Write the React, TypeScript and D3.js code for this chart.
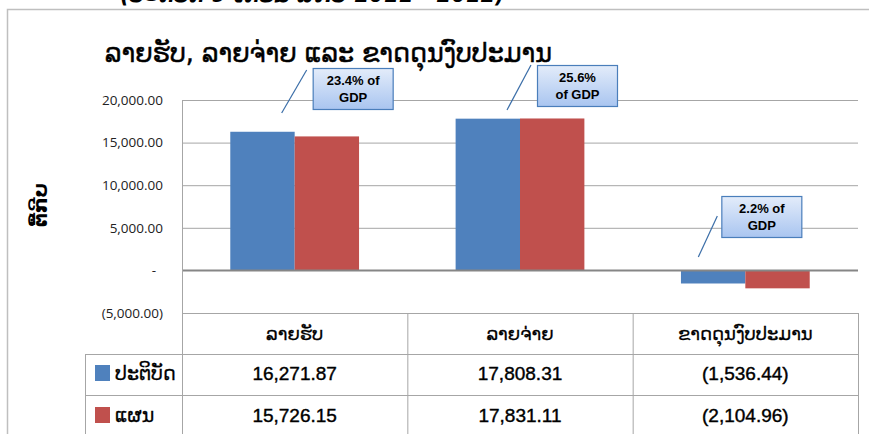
import React from "react";
import * as d3 from "d3";

// chart data
const categories = ["ລາຍຮັບ", "ລາຍຈ່າຍ", "ຂາດດຸນງົບປະມານ"];
const seriesNames = ["ປະຕິບັດ", "ແຜນ"];
const actual = [16271.87, 17808.31, -1536.44];
const plan = [15726.15, 17831.11, -2104.96];
const gdpNotes = [["23.4% of", "GDP"], ["25.6%", "of GDP"], ["2.2% of", "GDP"]];
const yTicks = [-5000, 0, 5000, 10000, 15000, 20000];

const colors = ["#4f81bd", "#c0504d"];
const gridColor = "#a6a6a6";

// callout placement (offsets from category centre)
const callouts = [
  { dx: 18, top: 68, line: [[-31, 45], [-6, 2]] },
  { dx: 17, top: 65, line: [[-30, 45], [-6, 0]] },
  { dx: -24, top: 196, line: [[-23, 61], [-4, 20]] },
];

const W = 869;
const H = 434;
const left = 182;
const right = 858;
const top = 100;
const bottom = 313;
const row1 = 354;
const row2 = 395;

const fmtNum = (v: number) => {
  const s = d3.format(",.2f")(Math.abs(v));
  return v < 0 ? `(${s})` : s;
};

const App = () => {
  const x = d3.scaleBand<string>().domain(categories).range([left, right]);
  const xs = d3
    .scaleBand<string>()
    .domain(seriesNames)
    .range([0, x.bandwidth()])
    .paddingInner(0)
    .paddingOuter(0.75);
  const y = d3.scaleLinear().domain([-5000, 20000]).range([bottom, top]);
  const values = [actual, plan];
  const laoFont = "'DejaVu Sans', 'Noto Sans', sans-serif";

  return (
    <svg
      width={W}
      height={H}
      style={{ position: "absolute", left: 0, top: 0, background: "#fff" }}
    >
      <defs>
        <linearGradient id="note" x1="0" y1="0" x2="0" y2="1">
          <stop offset="0" stopColor="#e3ecfa" />
          <stop offset="1" stopColor="#a9c5f0" />
        </linearGradient>
      </defs>

      {/* heading above the frame, cut by the top edge as in the source */}
      <text
        x={120}
        y={2}
        fontFamily={laoFont}
        fontSize={24}
        fontWeight="bold"
        fontStyle="italic"
        textLength={385}
        lengthAdjust="spacingAndGlyphs"
      >
        (ປະຕິບັດ 9 ເດືອນ ສົກປີ 2011 - 2012)
      </text>

      {/* outer frame */}
      <path d={`M7.5,${H} V9.5 H${W}`} fill="none" stroke="#bfbfbf" strokeWidth={1.5} />

      <text
        x={105}
        y={62}
        fontFamily={laoFont}
        fontSize={26}
        stroke="#000"
        strokeWidth={0.5}
        textLength={447}
        lengthAdjust="spacingAndGlyphs"
      >
        ລາຍຮັບ, ລາຍຈ່າຍ ແລະ ຂາດດຸນງົບປະມານ
      </text>

      {/* y axis title */}
      <text
        transform="translate(47,205) rotate(-90)"
        textAnchor="middle"
        fontFamily={laoFont}
        fontSize={20}
        fontWeight="bold"
        textLength={44}
        lengthAdjust="spacingAndGlyphs"
      >
        ຕື້ກີບ
      </text>

      {/* grid and ticks */}
      {yTicks.map((t) => (
        <g key={t}>
          {t !== 0 && (
            <line x1={left} x2={right} y1={y(t) + 0.5} y2={y(t) + 0.5} stroke={gridColor} />
          )}
          <text
            x={t === 0 ? 156 : 163}
            y={y(t)}
            dy="0.35em"
            textAnchor="end"
            fontFamily="'Open Sans', sans-serif"
            fontSize={13.5}
            fill="#222"
          >
            {t === 0 ? "-" : fmtNum(t)}
          </text>
        </g>
      ))}

      {/* bars */}
      {categories.map((c, i) =>
        seriesNames.map((s, j) => {
          const v = values[j][i];
          return (
            <rect
              key={c + s}
              x={(x(c) ?? 0) + (xs(s) ?? 0)}
              y={Math.min(y(v), y(0))}
              width={xs.bandwidth()}
              height={Math.abs(y(v) - y(0))}
              fill={colors[j]}
            />
          );
        })
      )}

      {/* zero line and axis */}
      <line x1={left} x2={right} y1={y(0)} y2={y(0)} stroke="#868686" strokeWidth={2} />
      <line x1={left + 0.5} x2={left + 0.5} y1={top} y2={H} stroke={gridColor} />

      {/* callouts */}
      {categories.map((c, i) => {
        const bx = (x(c) ?? 0) + x.bandwidth() / 2 + callouts[i].dx;
        const by = callouts[i].top;
        const [p0, p1] = callouts[i].line;
        return (
          <g key={"note" + c}>
            <line
              x1={bx + p0[0]}
              y1={by + p0[1]}
              x2={bx + p1[0]}
              y2={by + p1[1]}
              stroke="#3b6ea8"
              strokeWidth={1.2}
            />
            <rect
              x={bx + 0.5}
              y={by + 0.5}
              width={80}
              height={41}
              fill="url(#note)"
              stroke="#4a7ebb"
              strokeWidth={1.2}
            />
            {gdpNotes[i].map((ln, k) => (
              <text
                key={k}
                x={bx + 40.5}
                y={by + 17 + k * 17}
                textAnchor="middle"
                fontFamily="'Liberation Sans', Arial, sans-serif"
                fontWeight="bold"
                fontSize={13}
              >
                {ln}
              </text>
            ))}
          </g>
        );
      })}

      {/* data table */}
      <g stroke={gridColor} strokeWidth={1}>
        <line x1={85} x2={right} y1={row1 + 0.5} y2={row1 + 0.5} />
        <line x1={85} x2={right} y1={row2 + 0.5} y2={row2 + 0.5} />
        <line x1={85.5} x2={85.5} y1={row1} y2={H} />
        {categories.map((c) => (
          <line
            key={"v" + c}
            x1={(x(c) ?? 0) + x.bandwidth() + 0.5}
            x2={(x(c) ?? 0) + x.bandwidth() + 0.5}
            y1={bottom}
            y2={H}
          />
        ))}
      </g>
      {categories.map((c) => (
        <text
          key={"h" + c}
          x={(x(c) ?? 0) + x.bandwidth() / 2}
          y={334}
          dy="0.35em"
          textAnchor="middle"
          fontFamily={laoFont}
          fontSize={18}
          stroke="#000"
          strokeWidth={0.3}
        >
          {c}
        </text>
      ))}
      {seriesNames.map((s, j) => {
        const cy = j === 0 ? 373 : 415;
        return (
          <g key={"row" + s}>
            <rect x={95} y={cy - 8} width={15} height={16} fill={colors[j]} />
            <text
              x={115}
              y={cy}
              dy="0.35em"
              fontFamily={laoFont}
              fontSize={19}
              stroke="#000"
              strokeWidth={0.3}
            >
              {s}
            </text>
            {categories.map((c, i) => (
              <text
                key={c}
                x={(x(c) ?? 0) + x.bandwidth() / 2}
                y={cy}
                dy="0.35em"
                textAnchor="middle"
                fontFamily="'Liberation Sans', Arial, sans-serif"
                fontSize={19}
                stroke="#000"
                strokeWidth={0.4}
              >
                {fmtNum(values[j][i])}
              </text>
            ))}
          </g>
        );
      })}
    </svg>
  );
};

export default App;
